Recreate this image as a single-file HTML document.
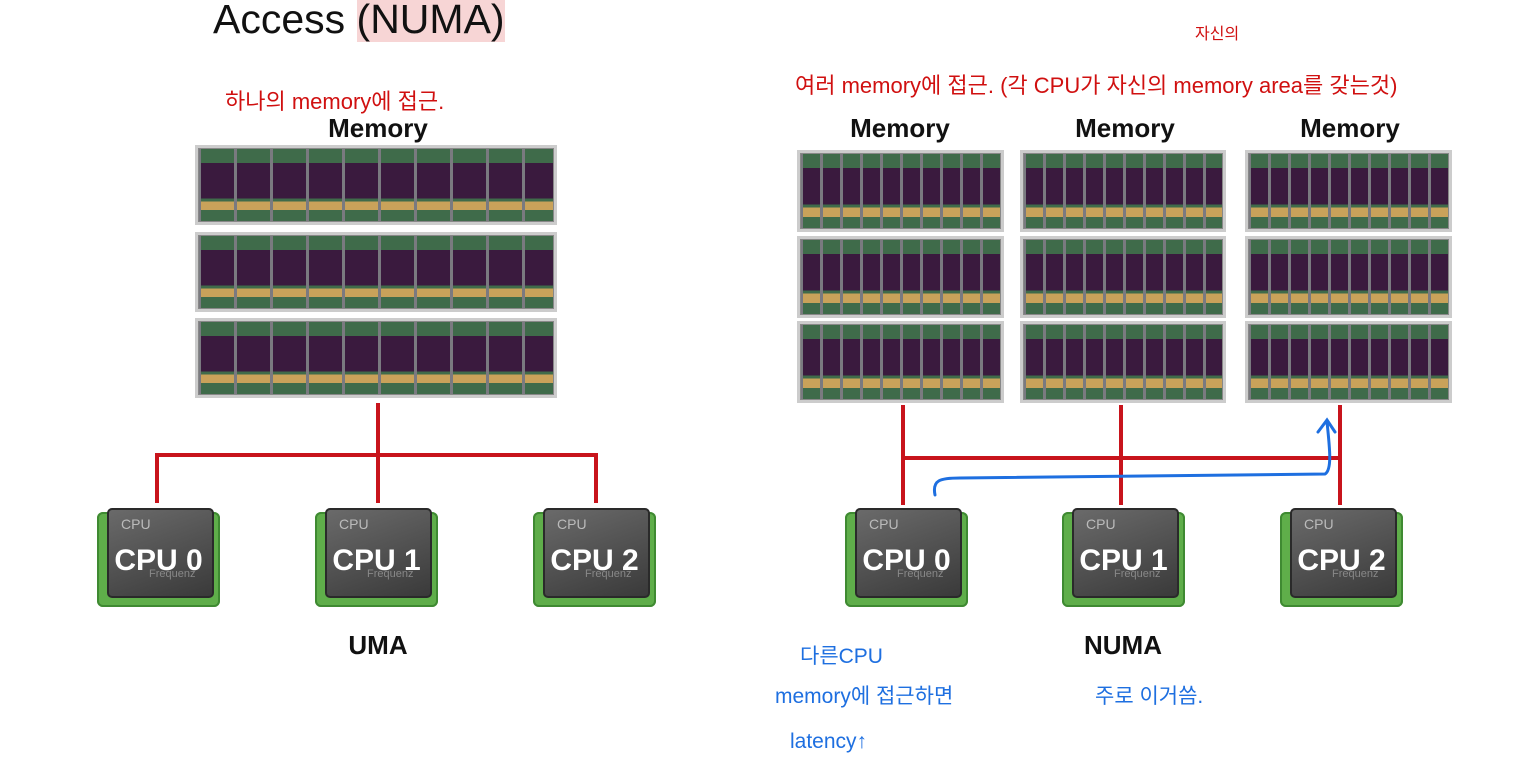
<!DOCTYPE html>
<html><head><meta charset="utf-8"><style>
body{margin:0;width:1530px;height:782px;background:#fff;position:relative;overflow:hidden;font-family:"Liberation Sans","Noto Sans CJK KR",sans-serif}
.a{position:absolute}
.mem{position:absolute;box-sizing:border-box;border:3px solid #ccc;background:
repeating-linear-gradient(90deg,#7a7a80 0 3px,transparent 3px var(--p)),
linear-gradient(180deg,transparent 0 72%,#c9a25a 72% 84%,transparent 84%),
linear-gradient(180deg,transparent 0 20%,#3a1a3e 20% 68%,transparent 68%),
#3f6b4a;box-shadow:0 0 0 1px #888 inset}
.lbl{position:absolute;font-weight:bold;font-size:26px;color:#111;text-align:center;width:200px}
.cpu{position:absolute;width:123px;height:99px}
.cpu .g{position:absolute;left:0;top:4px;width:123px;height:95px;background:#5fae4a;border-radius:6px;box-shadow:0 0 0 2px #3f8a32 inset}
.cpu .d{position:absolute;left:10px;top:0;width:103px;height:86px;background:linear-gradient(160deg,#6a6a6a,#3a3a3a);border-radius:5px;border:2px solid #2a2a2a}
.cpu .s{position:absolute;left:24px;top:8px;color:#bbb;font-size:14px}
.cpu .b{position:absolute;left:0;width:123px;text-align:center;top:36px;color:#fff;font-size:30px;font-weight:bold}
.cpu .f{position:absolute;left:52px;top:60px;color:#888;font-size:11px}
.r{position:absolute;background:#c8141c}
.red{color:#d01010;font-size:22px}
.blue{color:#1e6fe0;font-size:21px}
</style></head><body>
<div class="a" style="left:213px;top:-4px;font-size:41px;color:#111">Access <span style="background:#f7d5d5">(NUMA)</span></div>
<div class="a red" style="left:225px;top:84px">하나의 memory에 접근.</div>
<div class="a red" style="left:795px;top:68px">여러 memory에 접근. (각 CPU가 자신의 memory area를 갖는것)</div>
<div class="a red" style="left:1195px;top:20px;font-size:16px">자신의</div>

<div class="lbl" style="left:278px;top:113px">Memory</div>
<div class="lbl" style="left:800px;top:113px">Memory</div>
<div class="lbl" style="left:1025px;top:113px">Memory</div>
<div class="lbl" style="left:1250px;top:113px">Memory</div>

<div class="mem" style="--p:36px;left:195px;top:145px;width:362px;height:80px"></div>
<div class="mem" style="--p:36px;left:195px;top:232px;width:362px;height:80px"></div>
<div class="mem" style="--p:36px;left:195px;top:318px;width:362px;height:80px"></div>

<div class="mem" style="--p:20px;left:797px;top:150px;width:207px;height:82px"></div>
<div class="mem" style="--p:20px;left:797px;top:236px;width:207px;height:82px"></div>
<div class="mem" style="--p:20px;left:797px;top:321px;width:207px;height:82px"></div>
<div class="mem" style="--p:20px;left:1020px;top:150px;width:206px;height:82px"></div>
<div class="mem" style="--p:20px;left:1020px;top:236px;width:206px;height:82px"></div>
<div class="mem" style="--p:20px;left:1020px;top:321px;width:206px;height:82px"></div>
<div class="mem" style="--p:20px;left:1245px;top:150px;width:207px;height:82px"></div>
<div class="mem" style="--p:20px;left:1245px;top:236px;width:207px;height:82px"></div>
<div class="mem" style="--p:20px;left:1245px;top:321px;width:207px;height:82px"></div>

<div class="r" style="left:376px;top:403px;width:4px;height:100px"></div>
<div class="r" style="left:155px;top:453px;width:443px;height:4px"></div>
<div class="r" style="left:155px;top:453px;width:4px;height:50px"></div>
<div class="r" style="left:594px;top:453px;width:4px;height:50px"></div>

<div class="r" style="left:901px;top:405px;width:4px;height:100px"></div>
<div class="r" style="left:1119px;top:405px;width:4px;height:100px"></div>
<div class="r" style="left:1338px;top:405px;width:4px;height:100px"></div>
<div class="r" style="left:901px;top:456px;width:441px;height:4px"></div>

<svg class="a" style="left:0;top:0" width="1530" height="782"><path d="M935 495 C932 480,940 478,960 478 L1325 474 C1332 470,1330 450,1327 422 M1318 432 L1327 420 L1335 432" fill="none" stroke="#1e6fe0" stroke-width="3" stroke-linecap="round"/></svg>

<div class="cpu" style="left:97px;top:508px"><div class="g"></div><div class="d"></div><div class="s">CPU</div><div class="b">CPU 0</div><div class="f">Frequenz</div></div>
<div class="cpu" style="left:315px;top:508px"><div class="g"></div><div class="d"></div><div class="s">CPU</div><div class="b">CPU 1</div><div class="f">Frequenz</div></div>
<div class="cpu" style="left:533px;top:508px"><div class="g"></div><div class="d"></div><div class="s">CPU</div><div class="b">CPU 2</div><div class="f">Frequenz</div></div>
<div class="cpu" style="left:845px;top:508px"><div class="g"></div><div class="d"></div><div class="s">CPU</div><div class="b">CPU 0</div><div class="f">Frequenz</div></div>
<div class="cpu" style="left:1062px;top:508px"><div class="g"></div><div class="d"></div><div class="s">CPU</div><div class="b">CPU 1</div><div class="f">Frequenz</div></div>
<div class="cpu" style="left:1280px;top:508px"><div class="g"></div><div class="d"></div><div class="s">CPU</div><div class="b">CPU 2</div><div class="f">Frequenz</div></div>

<div class="lbl" style="left:278px;top:630px">UMA</div>
<div class="lbl" style="left:1023px;top:630px">NUMA</div>

<div class="a blue" style="left:800px;top:640px">다른CPU</div>
<div class="a blue" style="left:775px;top:680px">memory에 접근하면</div>
<div class="a blue" style="left:790px;top:730px">latency↑</div>
<div class="a blue" style="left:1095px;top:680px">주로 이거씀.</div>
</body></html>
